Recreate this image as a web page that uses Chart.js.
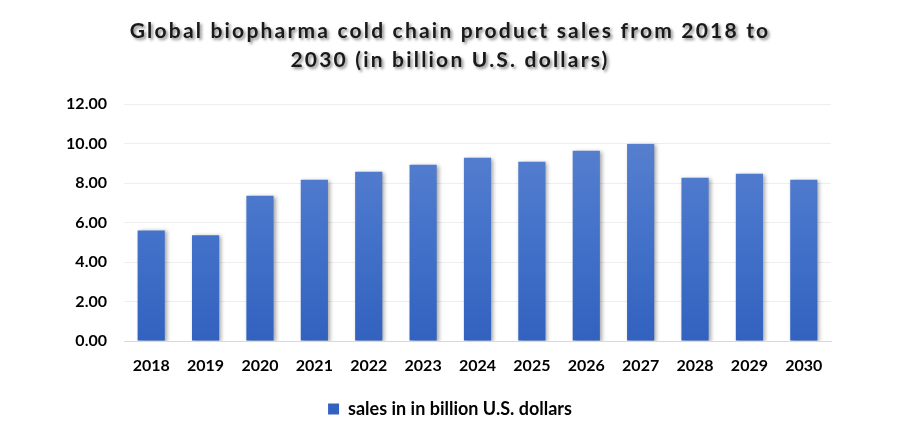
<!DOCTYPE html>
<html>
<head>
<meta charset="UTF-8">
<title>Biopharma cold chain sales</title>
<script src="https://cdn.jsdelivr.net/npm/chart.js"></script>
<style>
    html, body { margin: 0; padding: 0; background: #fff; }
    #box { width: 900px; height: 432px; position: relative; }
</style>
</head>
<body>
<div id="box">
    <canvas id="myChart"></canvas>
</div>
<script>
    const years = ['2018', '2019', '2020', '2021', '2022', '2023', '2024', '2025', '2026', '2027', '2028', '2029', '2030'];
    const sales = [5.60, 5.35, 7.36, 8.17, 8.57, 8.93, 9.28, 9.08, 9.63, 9.98, 8.27, 8.47, 8.17];
    const yTicks = [0, 2, 4, 6, 8, 10, 12];
    const titleLines = ['Global biopharma cold chain product sales from 2018 to', '2030 (in billion U.S. dollars)'];
    const seriesName = 'sales in in billion U.S. dollars';

    const FONT = 'Lato, "Open Sans", sans-serif';

    // bars: lighter at the top, darker at the base
    const barFill = function(context) {
        const chart = context.chart;
        const area = chart.chartArea;
        if (!area) return '#4472c4';
        const g = chart.ctx.createLinearGradient(0, area.top, 0, area.bottom);
        g.addColorStop(0, '#5f84cf');
        g.addColorStop(0.5, '#4674cb');
        g.addColorStop(1, '#3262bf');
        return g;
    };

    // soft shadow behind the bars
    const barShadow = {
        id: 'barShadow',
        beforeDatasetsDraw(chart) {
            const ctx = chart.ctx;
            ctx.save();
            ctx.shadowColor = 'rgba(0,0,0,0.35)';
            ctx.shadowBlur = 4;
            ctx.shadowOffsetX = 2;
            ctx.shadowOffsetY = 1;
        },
        afterDatasetsDraw(chart) {
            chart.ctx.restore();
        }
    };

    // title with a drop shadow
    const shadowTitle = {
        id: 'shadowTitle',
        afterDraw(chart) {
            const ctx = chart.ctx;
            ctx.save();
            ctx.font = 'bold 21px ' + FONT;
            ctx.fillStyle = '#1a1a1a';
            ctx.textAlign = 'center';
            ctx.textBaseline = 'middle';
            ctx.letterSpacing = '2.2px';
            ctx.shadowColor = 'rgba(0,0,0,0.45)';
            ctx.shadowBlur = 3;
            ctx.shadowOffsetX = 2;
            ctx.shadowOffsetY = 2;
            ctx.fillText(titleLines[0], 450, 31);
            ctx.fillText(titleLines[1], 450, 60);
            ctx.restore();
        }
    };

    const chartCanvas = document.getElementById('myChart');

    new Chart(chartCanvas, {
        type: 'bar',
        data: {
            labels: years,
            datasets: [{
                label: seriesName,
                data: sales,
                backgroundColor: barFill,
                borderWidth: 0,
                categoryPercentage: 1.0,
                barPercentage: 0.5
            }]
        },
        options: {
            responsive: true,
            maintainAspectRatio: false,
            animation: false,
            layout: {
                padding: { top: 104, right: 0, bottom: 4, left: 0 }
            },
            scales: {
                x: {
                    grid: { display: false, drawTicks: false },
                    border: { display: true, color: '#d9d9d9', width: 1 },
                    ticks: {
                        color: '#000',
                        font: { family: FONT, size: 16, weight: 'bold' },
                        padding: 15,
                        maxRotation: 0
                    },
                    afterFit(scale) { scale.height = 49; }
                },
                y: {
                    min: 0,
                    max: 12,
                    afterBuildTicks(scale) {
                        scale.ticks = yTicks.map(v => ({ value: v }));
                    },
                    grid: { color: '#eeeeee', drawTicks: false },
                    border: { display: false },
                    ticks: {
                        color: '#000',
                        font: { family: FONT, size: 16, weight: 'bold' },
                        padding: 17,
                        callback: v => Number(v).toFixed(2)
                    },
                    afterFit(scale) { scale.width = 124; }
                },
                // empty right-hand gutter so the legend stays centred on the page
                yRight: {
                    position: 'right',
                    min: 0,
                    max: 12,
                    grid: { display: false, drawTicks: false },
                    border: { display: false },
                    ticks: { display: false },
                    afterFit(scale) { scale.width = 69; }
                }
            },
            plugins: {
                legend: {
                    display: true,
                    position: 'bottom',
                    labels: {
                        color: '#000',
                        font: { family: FONT, size: 18, weight: 'bold' },
                        boxWidth: 11,
                        boxHeight: 11,
                        padding: 10
                    }
                },
                title: { display: false },
                tooltip: { enabled: false }
            }
        },
        plugins: [barShadow, shadowTitle]
    });
</script>
</body>
</html>
